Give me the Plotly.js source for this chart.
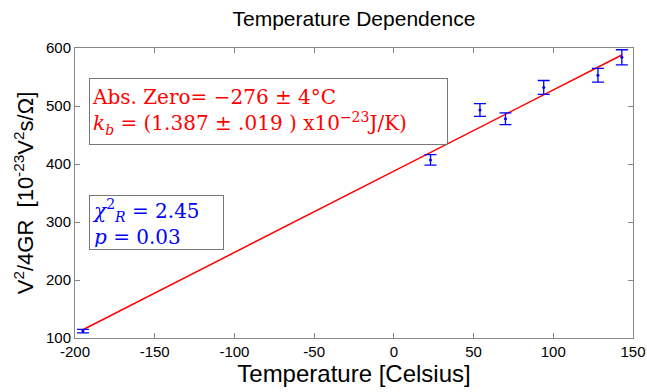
<!DOCTYPE html>
<html><head><meta charset="utf-8">
<script src="https://cdn.plot.ly/plotly-3.0.1.min.js"></script>
<style>body{margin:0;background:#fff}#chart{width:647px;height:392px}</style>
</head><body><div id="chart"></div>
<script>
const tempC = [-195, 23, 54, 70, 94, 128, 143];
const vNoise = [112, 407, 493, 478, 532, 553, 584];
const vErr = [3, 9, 11, 10, 12, 12, 13];
const fitX = [-196, 143];
const fitY = [113, 588];
const xTicks = [-200, -150, -100, -50, 0, 50, 100, 150];
const yTicks = [100, 200, 300, 400, 500, 600];

const data = [
  {x: fitX, y: fitY, mode: 'lines', line: {color: '#ff0000', width: 1.5}, hoverinfo: 'skip'},
  {x: tempC, y: vNoise, mode: 'markers', marker: {color: '#0000ff', size: 3},
   error_y: {type: 'data', array: vErr, visible: true, color: '#0000ff', thickness: 1.3, width: 6}}
];
const axisBase = {showgrid: false, zeroline: false, showline: true, linecolor: '#888', linewidth: 1,
  mirror: 'ticks', ticks: 'inside', ticklen: 5, tickcolor: '#888',
  tickfont: {family: 'Liberation Sans, Arial', size: 15, color: '#000'}};
const layout = {
  width: 647, height: 392, showlegend: false,
  margin: {l: 75, r: 14, t: 48, b: 54},
  paper_bgcolor: '#fff', plot_bgcolor: '#fff',
  title: {text: 'Temperature Dependence', font: {family: 'Liberation Sans, Arial', size: 21, color: '#000'}, x: 0.547, xanchor: 'center', y: 0.97, yanchor: 'top'},
  xaxis: Object.assign({}, axisBase, {range: [-200, 150], tickvals: xTicks, ticktext: xTicks.map(String),
    title: {text: 'Temperature [Celsius]', font: {family: 'Liberation Sans, Arial', size: 24, color: '#000'}, standoff: 2}}),
  yaxis: Object.assign({}, axisBase, {range: [100, 600], tickvals: yTicks, ticktext: yTicks.map(String),
    title: {text: 'V<sup>2</sup>/4GR  [10<sup>-23</sup>V<sup>2</sup>s/Ω]', font: {family: 'Liberation Sans, Arial', size: 22, color: '#000'}, standoff: 6}}),
  annotations: [
    {xref: 'paper', yref: 'paper', x: 0.025, y: 0.897, xanchor: 'left', yanchor: 'top', align: 'left',
     showarrow: false, bordercolor: '#777', borderwidth: 1, borderpad: 2, width: 353, height: 61,
     font: {family: 'DejaVu Serif, Liberation Serif, serif', size: 20, color: '#ff0000'},
     text: 'Abs. Zero= −276 ± 4°C<br><i>k<sub>b</sub></i> = (1.387 ± .019 ) x10<sup>−23</sup>J/K)'},
    {xref: 'paper', yref: 'paper', x: 0.025, y: 0.493, xanchor: 'left', yanchor: 'top', align: 'left',
     showarrow: false, bordercolor: '#777', borderwidth: 1, borderpad: 2, width: 129, height: 49,
     font: {family: 'DejaVu Serif, Liberation Serif, serif', size: 20, color: '#0000ff'},
     text: '<i>χ</i><sup>2</sup><sub><i>R</i></sub> = 2.45<br><i>p</i> = 0.03'}
  ]
};
Plotly.newPlot('chart', data, layout, {displayModeBar: false, staticPlot: true});
</script></body></html>
